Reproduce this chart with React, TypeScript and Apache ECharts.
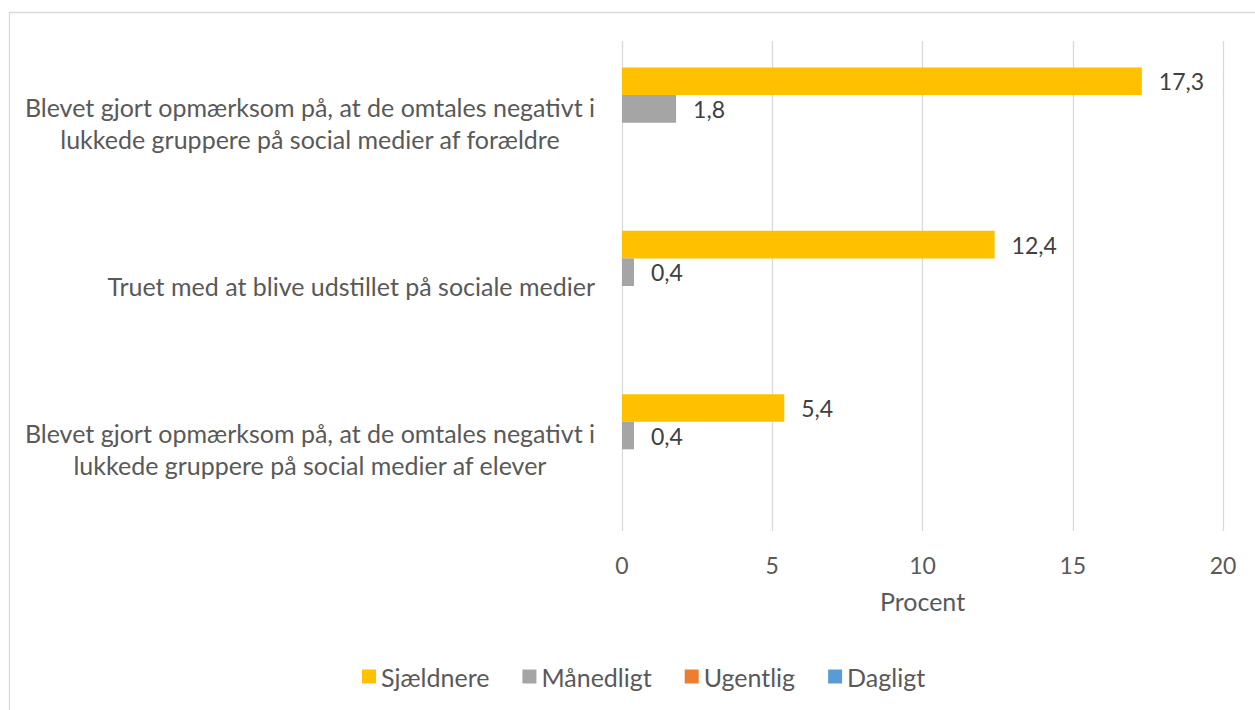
import React, { useEffect, useRef } from 'react';
import * as echarts from 'echarts';

const categories: string[] = [
  'Blevet gjort opmærksom på, at de omtales negativt i\nlukkede gruppere på social medier af forældre',
  'Truet med at blive udstillet på sociale medier',
  'Blevet gjort opmærksom på, at de omtales negativt i\nlukkede gruppere på social medier af elever',
];
const seriesNames: string[] = ['Sjældnere', 'Månedligt', 'Ugentlig', 'Dagligt'];
const sjaeldnere: number[] = [17.3, 12.4, 5.4];
const maanedligt: number[] = [1.8, 0.4, 0.4];
const ugentlig: number[] = [0, 0, 0];
const dagligt: number[] = [0, 0, 0];
const seriesColors: string[] = ['#FFC000', '#A5A5A5', '#ED7D31', '#5B9BD5'];
const xMin = 0;
const xMax = 20;
const xInterval = 5;
const axisTitle = 'Procent';

const FONT = 'Lato';
const FS_TEXT = 25;
const FS_NUM = 23;

export default function App() {
  const ref = useRef<HTMLDivElement>(null);
  useEffect(() => {
    document.body.style.margin = '0';
    if (!ref.current) return;
    const chart = echarts.init(ref.current, null, { renderer: 'svg' });
    const values = [sjaeldnere, maanedligt, ugentlig, dagligt];
    chart.setOption({
      animation: false,
      backgroundColor: '#ffffff',
      textStyle: { fontFamily: FONT },
      graphic: [
        {
          type: 'rect',
          shape: { x: 9.5, y: 12.5, width: 1300, height: 800 },
          style: { fill: 'none', stroke: '#D9D9D9', lineWidth: 1.3 },
          silent: true,
          z: -10,
        },
      ],
      grid: { left: 622, right: 32, top: 41, bottom: 179, containLabel: false },
      legend: {
        data: seriesNames,
        left: 362,
        top: 664,
        padding: 0,
        icon: 'rect',
        itemWidth: 14,
        itemHeight: 14,
        itemGap: 33,
        textStyle: { fontFamily: FONT, fontSize: FS_TEXT, color: '#595959', padding: [0, 0, 0, 0] },
      },
      xAxis: {
        type: 'value',
        min: xMin,
        max: xMax,
        interval: xInterval,
        name: axisTitle,
        nameLocation: 'middle',
        nameGap: 57,
        nameTextStyle: { fontFamily: FONT, fontSize: FS_TEXT, color: '#595959' },
        axisLine: { show: false },
        axisTick: { show: false },
        axisLabel: { fontFamily: FONT, fontSize: FS_NUM, color: '#595959', margin: 22 },
        splitLine: { show: true, lineStyle: { color: '#D9D9D9', width: 1.3 } },
      },
      yAxis: {
        type: 'category',
        data: categories,
        inverse: true,
        axisLine: { show: false },
        axisTick: { show: false },
        axisLabel: {
          margin: 27,
          align: 'right',
          formatter: (v: string) => v.split('\n').map((l) => `{c|${l}}`).join('\n'),
          rich: {
            c: {
              align: 'center',
              fontFamily: FONT,
              fontSize: FS_TEXT,
              color: '#595959',
              lineHeight: 32,
            },
          },
        },
      },
      series: seriesNames.map((name, i) => ({
        name,
        type: 'bar',
        data: values[i],
        barWidth: 27.6,
        barGap: '0%',
        itemStyle: { color: seriesColors[i] },
        label: {
          show: true,
          position: 'right',
          distance: 17,
          fontFamily: FONT,
          fontSize: FS_NUM,
          color: '#404040',
          formatter: (p: any) => (p.value > 0 ? String(p.value).replace('.', ',') : ''),
        },
      })),
    });
    return () => chart.dispose();
  }, []);
  return <div ref={ref} style={{ width: 1255, height: 710 }} />;
}
